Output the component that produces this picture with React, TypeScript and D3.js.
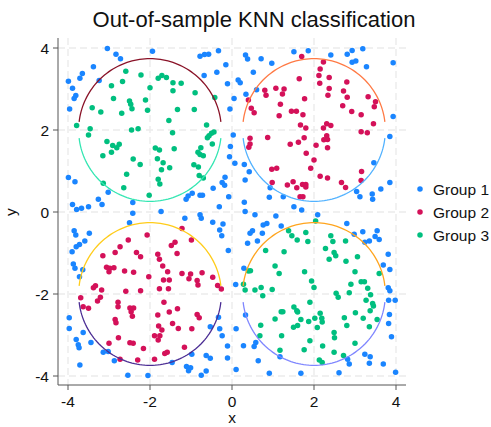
import React from "react";
import * as d3 from "d3";

const group1: [number, number][] = [
  [-3.04,3.99],[-2.83,3.85],[-2.72,3.74],[-1.94,3.92],[-3.38,3.54],[-3.65,3.38],[-3.71,3.26],[-3.99,3.19],[-3.89,3.02],[-3.24,3.21],[-3.81,2.84],[-3.85,2.77],[-3.96,2.51],[-0.78,3.80],[-0.67,3.84],[-0.57,3.85],[-0.33,3.93],[-0.15,3.59],[-0.37,3.41],[-0.68,3.33],[-0.11,3.13],[-0.05,2.51],[-0.04,1.60],[-0.06,1.35],[-3.99,0.84],[-3.83,0.74],[-3.02,0.48],[-3.26,0.31],[-3.17,0.18],[-3.89,0.18],[-3.67,0.09],[-3.50,0.13],[-3.79,0.06],[-2.42,0.23],[-1.12,0.31],[-1.07,0.39],[-0.97,0.46],[-0.78,0.41],[-0.72,0.41],[-0.46,0.58],[-0.24,0.72],[-0.18,0.65],[-0.31,0.13],[-0.17,0.85],[-0.08,0.37],
  [0.33,3.83],[0.38,3.73],[0.71,3.74],[0.97,3.63],[1.51,3.91],[1.86,3.93],[2.41,3.83],[2.81,3.85],[2.93,3.94],[3.19,3.98],[2.93,3.65],[3.02,3.68],[3.28,3.54],[3.93,3.64],[0.52,3.41],[0.15,3.22],[0.20,3.15],[0.60,2.98],[0.34,2.87],[0.05,2.77],[3.93,2.33],[0.03,1.88],[0.07,1.19],[0.30,1.16],[0.42,0.98],[0.32,0.78],[0.30,0.24],[0.91,0.36],[1.25,0.37],[1.51,0.13],[1.70,0.05],[0.93,0.59],[3.04,0.50],[3.12,0.37],[3.42,0.44],[3.43,0.31],[3.63,0.56],[3.85,0.72],[3.85,1.84],[3.46,1.20],
  [-2.42,-0.03],[-1.73,0.01],[-1.15,-0.15],[-0.78,-0.07],[-0.75,-0.15],[-0.47,-0.25],[-0.22,-0.29],[-0.30,-0.44],[-0.25,-0.58],[-0.09,-0.94],[-2.50,-0.26],[-3.85,-0.46],[-3.81,-0.56],[-3.48,-0.52],[-3.59,-0.71],[-3.72,-0.79],[-3.80,-0.85],[-3.90,-0.97],[-3.87,-1.27],[-3.83,-1.37],[-3.64,-1.41],[-3.72,-1.58],[-3.97,-2.58],[-3.97,-2.84],[-3.63,-2.94],[-3.80,-3.11],[-3.75,-3.24],[-3.73,-3.31],[-3.44,-3.18],[-3.14,-3.42],[-3.02,-3.40],[-2.87,-3.63],[-3.71,-3.73],[-2.54,-3.98],[-2.05,-3.99],[-1.46,-3.67],[-1.11,-3.77],[-1.06,-3.87],[-1.01,-3.80],[-0.75,-3.98],[-0.63,-3.88],[-0.98,-3.47],[-0.63,-3.50],[-0.53,-3.57],[-0.53,-2.80],[-0.33,-2.57],[-0.30,-2.85],[-0.11,-3.27],[-0.11,-3.56],[-0.24,-3.02],
  [0.32,0.01],[0.56,-0.07],[1.07,-0.10],[2.09,-0.07],[2.80,-0.28],[1.20,-0.34],[0.76,-0.32],[0.85,-0.28],[0.44,-0.52],[0.50,-0.46],[0.38,-0.76],[0.74,-0.52],[0.62,-0.71],[2.98,-0.54],[3.19,-0.48],[3.54,-0.46],[3.49,-0.60],[3.59,-0.67],[3.35,-0.71],[3.24,-0.74],[3.81,-1.03],[3.69,-1.29],[3.85,-1.40],[3.81,-1.85],[3.85,-1.92],[3.82,-2.15],[3.98,-2.15],[3.84,-2.50],[3.82,-2.72],[3.89,-3.04],[0.29,-1.37],[0.09,-1.77],[0.33,-2.51],[0.10,-2.85],[0.58,-3.18],[0.54,-3.28],[0.28,-3.26],[0.64,-3.63],[0.10,-3.84],[0.91,-3.93],[1.68,-3.93],[2.61,-3.92],[1.17,-3.53],[2.82,-3.59],[2.86,-3.71],[3.24,-3.47],[3.37,-3.53],[3.35,-3.69],[3.69,-3.71],[3.99,-3.91]
];

const group2: [number, number][] = [
  [1.70,3.79],[2.23,3.66],[2.15,3.49],[2.12,3.33],[2.37,3.28],[2.14,3.14],[1.64,3.25],[2.37,3.01],[2.34,2.85],[2.80,3.17],[2.72,2.95],[2.81,2.80],[3.32,2.81],[3.50,2.69],[3.47,2.57],[1.07,3.02],[1.27,3.00],[0.80,2.97],[0.83,2.85],[1.23,2.88],[1.77,2.76],[1.18,2.63],[0.40,2.73],[0.47,2.53],[0.54,2.42],[1.45,2.46],[1.57,2.46],[1.73,2.37],[1.15,2.35],[2.70,2.59],[2.92,2.45],[3.15,2.37],[3.45,2.15],[2.31,2.15],[2.41,2.11],[2.23,2.05],[1.67,2.12],[1.80,2.05],[3.15,1.96],[3.30,1.93],[0.44,1.80],[0.44,1.66],[0.41,1.58],[0.87,1.82],[1.76,1.81],[1.62,1.70],[1.42,1.65],[2.05,1.63],[2.31,1.86],[2.24,1.76],[2.33,1.77],[2.33,1.57],[1.81,1.43],[2.00,1.27],[1.92,1.07],[0.97,1.04],[1.09,1.07],[0.98,0.72],[2.15,0.87],[2.33,0.83],[3.16,0.99],[3.15,0.77],[2.67,0.72],[2.77,0.60],[1.35,0.66],[1.49,0.74],[1.58,0.59],[1.72,0.67],[1.80,0.67],[1.80,0.61],[1.66,0.37],[1.73,0.37],
  [-2.07,-0.56],[-1.22,-0.40],[-0.99,-0.68],[-1.48,-0.82],[-1.39,-0.74],[-1.34,-1.01],[-2.53,-0.68],[-2.73,-0.85],[-2.85,-0.99],[-3.15,-1.07],[-2.33,-0.99],[-2.23,-1.09],[-1.81,-1.03],[-1.77,-1.15],[-3.06,-1.35],[-2.98,-1.37],[-3.00,-1.46],[-2.88,-1.36],[-2.62,-1.44],[-2.40,-1.47],[-1.69,-1.32],[-1.57,-1.46],[-1.22,-1.50],[-1.01,-1.51],[-1.05,-1.63],[-0.73,-1.48],[-0.85,-1.67],[-0.83,-1.78],[-0.47,-1.59],[-0.35,-1.79],[-0.26,-1.88],[-2.03,-1.58],[-1.67,-1.66],[-1.53,-1.66],[-1.77,-1.87],[-1.55,-1.87],[-2.23,-1.92],[-2.59,-1.93],[-3.38,-1.85],[-3.33,-1.80],[-3.18,-1.90],[-3.21,-2.08],[-3.28,-2.17],[-3.69,-2.09],[-3.63,-2.31],[-3.50,-2.35],[-2.78,-2.20],[-2.78,-2.31],[-2.49,-2.34],[-2.40,-2.34],[-2.46,-2.43],[-2.43,-2.54],[-1.66,-2.20],[-1.53,-2.44],[-1.33,-2.36],[-1.81,-2.51],[-1.45,-2.72],[-0.85,-2.50],[-0.80,-2.58],[-2.85,-2.62],[-2.83,-2.70],[-1.79,-2.78],[-1.71,-2.88],[-1.31,-2.84],[-0.98,-2.85],[-2.77,-3.07],[-1.89,-3.02],[-1.80,-3.12],[-1.76,-3.02],[-3.00,-3.20],[-2.49,-3.19],[-2.41,-3.20],[-2.16,-3.33],[-1.16,-3.30],[-1.64,-3.45],[-1.58,-3.42],[-2.73,-3.59],[-2.30,-3.61],[-1.89,-3.59]
];

const group3: [number, number][] = [
  [-2.59,3.43],[-2.22,3.34],[-1.80,3.26],[-1.71,3.33],[-1.60,3.28],[-1.44,3.15],[-1.24,3.14],[-1.44,2.96],[-0.90,2.91],[-0.42,2.79],[-2.94,3.08],[-2.67,3.18],[-2.00,3.03],[-2.89,2.77],[-2.50,2.71],[-2.47,2.63],[-2.44,2.52],[-2.11,2.73],[-2.06,2.48],[-2.69,2.41],[-3.41,2.54],[-3.20,2.44],[-1.33,2.50],[-0.92,2.50],[-1.54,2.23],[-0.62,2.12],[-0.44,1.95],[-0.50,1.92],[-0.56,1.86],[-0.60,1.81],[-0.48,1.66],[-1.45,1.93],[-3.79,2.11],[-3.46,2.03],[-3.50,1.88],[-2.45,2.00],[-2.29,2.03],[-3.05,1.72],[-2.91,1.62],[-2.81,1.57],[-2.75,1.65],[-2.94,1.46],[-3.15,1.37],[-1.87,1.56],[-1.77,1.51],[-1.41,1.54],[-2.41,1.29],[-2.24,1.16],[-1.82,1.30],[-1.68,1.20],[-1.72,1.03],[-1.52,1.08],[-2.57,0.92],[-1.80,0.80],[-1.76,0.68],[-2.64,0.59],[-2.02,0.41],[-0.76,1.57],[-0.83,1.46],[-0.78,1.40],[-0.70,1.37],[-0.93,1.15],[-0.82,1.10],[-0.80,0.89],[-0.70,0.83],[-3.14,0.70],
  [2.04,-0.22],[1.38,-0.46],[1.46,-0.58],[1.59,-0.68],[1.80,-0.50],[1.85,-0.72],[2.41,-0.58],[2.46,-0.72],[2.77,-0.71],[0.82,-0.94],[1.27,-0.97],[2.28,-0.89],[2.49,-0.99],[2.53,-1.07],[2.37,-1.15],[3.06,-1.09],[2.78,-1.20],[1.05,-1.32],[1.15,-1.50],[1.77,-1.46],[3.00,-1.46],[3.59,-1.50],[0.45,-1.43],[0.40,-1.44],[1.94,-1.68],[2.00,-1.84],[2.90,-1.76],[3.15,-1.70],[3.23,-1.70],[3.31,-1.86],[0.28,-1.76],[0.32,-1.90],[0.56,-1.90],[0.71,-1.84],[0.98,-1.89],[0.75,-2.04],[2.54,-1.98],[2.59,-2.08],[2.86,-1.97],[3.38,-2.02],[3.27,-2.15],[3.43,-2.23],[3.45,-2.29],[3.37,-2.41],[1.90,-2.20],[1.51,-2.32],[1.58,-2.41],[1.60,-2.44],[1.20,-2.43],[1.24,-2.43],[1.05,-2.61],[1.68,-2.62],[1.87,-2.67],[2.02,-2.59],[2.15,-2.47],[2.19,-2.59],[2.20,-2.68],[2.08,-2.82],[1.50,-2.81],[1.60,-2.77],[2.74,-2.58],[2.80,-2.77],[3.01,-2.46],[3.20,-2.59],[3.54,-2.62],[3.35,-2.80],[0.70,-2.76],[0.68,-3.02],[1.21,-3.02],[2.49,-2.94],[2.50,-3.07],[1.90,-3.14],[1.76,-3.36],[2.21,-3.27],[1.17,-3.37],[2.49,-3.42],[3.00,-3.20],[2.72,-3.50],[2.13,-3.61],[2.20,-3.67]
];

const groupNames = ["Group 1", "Group 2", "Group 3"];
const groupColors = ["#1a85ff", "#d41159", "#00bf7f"];
const groups = [group1, group2, group3];

const ticks = [-4, -2, 0, 2, 4];

// circle centers and arc colours (upper half, lower half)
const circleCenters: [number, number][] = [[-2, 2], [2, 2], [-2, -2], [2, -2]];
const upperArcColors = ["#8a1328", "#ff7a45", "#ffcc1a", "#ffa51f"];
const lowerArcColors = ["#33e6b2", "#52b2ff", "#4b2d94", "#7f86ff"];
const circleRadius = 1.74;
const arcGap = 0.2;

export default function App() {
  const W = 491, H = 427;
  const left = 58, right = 406, top = 38, bottom = 385;
  const x = d3.scaleLinear().domain([-4, 4]).range([68, 396]);
  const y = d3.scaleLinear().domain([-4, 4]).range([376, 48]);
  const font = "'Liberation Sans', Arial, Helvetica, sans-serif";

  const a0 = Math.asin(arcGap / circleRadius);
  const arcPath = (cx: number, cy: number, upper: boolean) => {
    const n = 80;
    const angles = d3.range(n + 1).map((i) => a0 + ((Math.PI - 2 * a0) * i) / n);
    const line = d3
      .line<number>()
      .x((a) => x(cx + circleRadius * Math.cos(a)))
      .y((a) => y(cy + (upper ? 1 : -1) * circleRadius * Math.sin(a)));
    return line(angles) || "";
  };

  return (
    <svg width={W} height={H} style={{ position: "absolute", left: 0, top: 0, background: "#fff" }} fontFamily={font}>
      <rect x={0} y={0} width={W} height={H} fill="#fff" />
      {/* grid */}
      {ticks.map((t) => (
        <line key={"gx" + t} x1={x(t)} x2={x(t)} y1={top} y2={bottom} stroke="#ebebeb" strokeWidth={1.4} strokeDasharray="7,4" />
      ))}
      {ticks.map((t) => (
        <line key={"gy" + t} x1={left} x2={right} y1={y(t)} y2={y(t)} stroke="#ebebeb" strokeWidth={1.4} strokeDasharray="7,4" />
      ))}
      {/* points */}
      {groups.map((g, gi) =>
        g.map((p, i) => (
          <circle key={gi + "-" + i} cx={x(p[0])} cy={y(p[1])} r={2.75} fill={groupColors[gi]} />
        ))
      )}
      {/* circles */}
      {circleCenters.map((c, i) => (
        <g key={"c" + i} fill="none" strokeWidth={1.3}>
          <path d={arcPath(c[0], c[1], true)} stroke={upperArcColors[i]} />
          <path d={arcPath(c[0], c[1], false)} stroke={lowerArcColors[i]} />
        </g>
      ))}
      {/* axes */}
      <line x1={left} x2={left} y1={top} y2={bottom} stroke="#555" strokeWidth={1} />
      <line x1={left} x2={right} y1={bottom} y2={bottom} stroke="#555" strokeWidth={1} />
      {ticks.map((t) => (
        <g key={"tx" + t}>
          <line x1={x(t)} x2={x(t)} y1={bottom} y2={bottom + 5} stroke="#555" />
          <text x={x(t)} y={407} textAnchor="middle" fontSize={15.5} fill="#111">
            {t}
          </text>
        </g>
      ))}
      {ticks.map((t) => (
        <g key={"ty" + t}>
          <line x1={left - 5} x2={left} y1={y(t)} y2={y(t)} stroke="#555" />
          <text x={49} y={y(t)} textAnchor="end" dominantBaseline="central" fontSize={15.5} fill="#111">
            {t}
          </text>
        </g>
      ))}
      <text x={(left + right) / 2} y={423} textAnchor="middle" fontSize={15.5} fill="#111">x</text>
      <text transform={`translate(16,${y(0)}) rotate(-90)`} textAnchor="middle" fontSize={15.5} fill="#111">y</text>
      <text x={254} y={27} textAnchor="middle" fontSize={22} fill="#111">Out-of-sample KNN classification</text>
      {/* legend */}
      {groupNames.map((n, i) => (
        <g key={n}>
          <circle cx={420} cy={189 + i * 23} r={2.75} fill={groupColors[i]} />
          <text x={433} y={189 + i * 23} dominantBaseline="central" fontSize={15.5} fill="#111">{n}</text>
        </g>
      ))}
    </svg>
  );
}
